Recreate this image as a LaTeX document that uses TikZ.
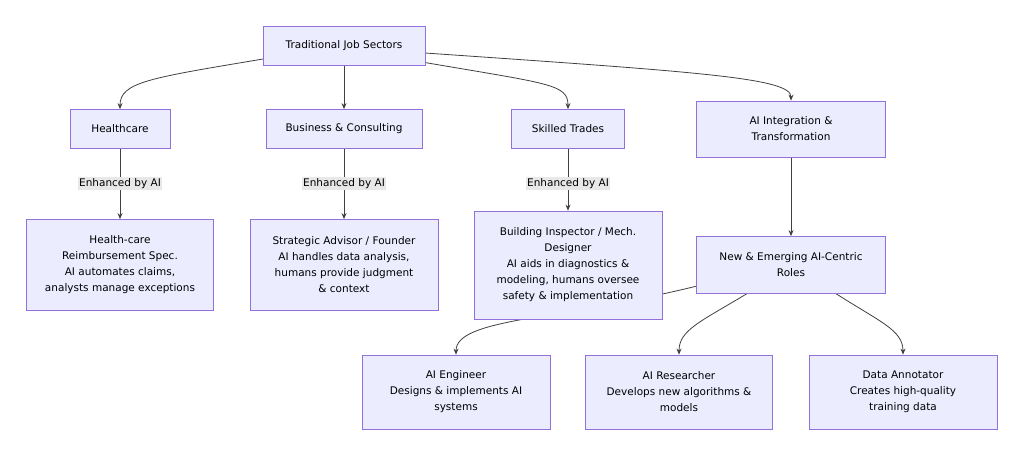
\documentclass[tikz,border=0pt]{standalone}
\usepackage{fontspec}
\setmainfont{DejaVu Sans}
\usetikzlibrary{arrows.meta,backgrounds}
\definecolor{nfill}{HTML}{ECECFF}
\definecolor{nline}{HTML}{9370DB}
\definecolor{lbl}{HTML}{E8E8E8}
\begin{document}
\begin{tikzpicture}[x=1pt,y=-1pt,
  box/.style={draw=nline,fill=nfill,line width=0.8pt,align=center,inner sep=0pt,font=\fontsize{10.5}{16}\selectfont},
  e/.style={draw=black!75,line width=0.8pt,-{Stealth[length=6pt,width=5pt]}},
  lab/.style={fill=lbl,font=\fontsize{10.5}{13}\selectfont,inner sep=1.5pt}]
\useasboundingbox (0,0) rectangle (1024,456);
\node[box,minimum width=162,minimum height=39] (top) at (344,46) {Traditional Job Sectors};
\node[box,minimum width=100,minimum height=39] (hc) at (120,129) {Healthcare};
\node[box,minimum width=156,minimum height=39] (bc) at (344,129) {Business \& Consulting};
\node[box,minimum width=113,minimum height=39] (st) at (568,129) {Skilled Trades};
\node[box,minimum width=189,minimum height=56] (ai) at (791,129) {AI Integration \&\\Transformation};
\node[box,minimum width=187,minimum height=91] (hr) at (120,265) {Health-care\\Reimbursement Spec.\\AI automates claims,\\analysts manage exceptions};
\node[box,minimum width=188,minimum height=91] (sa) at (344,265) {Strategic Advisor / Founder\\AI handles data analysis,\\humans provide judgment\\\& context};
\node[box,minimum width=188,minimum height=108] (bi) at (568,265) {Building Inspector / Mech.\\Designer\\AI aids in diagnostics \&\\modeling, humans oversee\\safety \& implementation};
\node[box,minimum width=189,minimum height=57] (ne) at (791,265) {New \& Emerging AI-Centric\\Roles};
\node[box,minimum width=188,minimum height=74] (en) at (456,392) {AI Engineer\\Designs \& implements AI\\systems};
\node[box,minimum width=187,minimum height=74] (re) at (679,392) {AI Researcher\\Develops new algorithms \&\\models};
\node[box,minimum width=188,minimum height=74] (da) at (903,392) {Data Annotator\\Creates high-quality\\training data};
\coordinate (l3) at (568,184);
\begin{scope}[on background layer]
\draw[e] (263,59) .. controls (150,78) and (120,82) .. (hc.north);
\draw[e] (top) -- (bc);
\draw[e] (422,62) .. controls (550,84) and (568,84) .. (st.north);
\draw[e] (425,53) .. controls (700,72) and (791,78) .. (ai.north);
\draw[e] (hc) -- node[lab,pos=0.49]{Enhanced by AI} (hr);
\draw[e] (bc) -- node[lab,pos=0.49]{Enhanced by AI} (sa);
\draw[e] (st) -- node[lab,pos=0.56]{Enhanced by AI} (bi);
\draw[e] (ai) -- (ne);
\draw[e] (697,286) .. controls (560,320) and (456,318) .. (en.north);
\draw[e] (748,293) .. controls (700,322) and (679,330) .. (re.north);
\draw[e] (835,293) .. controls (880,322) and (903,330) .. (da.north);
\end{scope}
\end{tikzpicture}
\end{document}
